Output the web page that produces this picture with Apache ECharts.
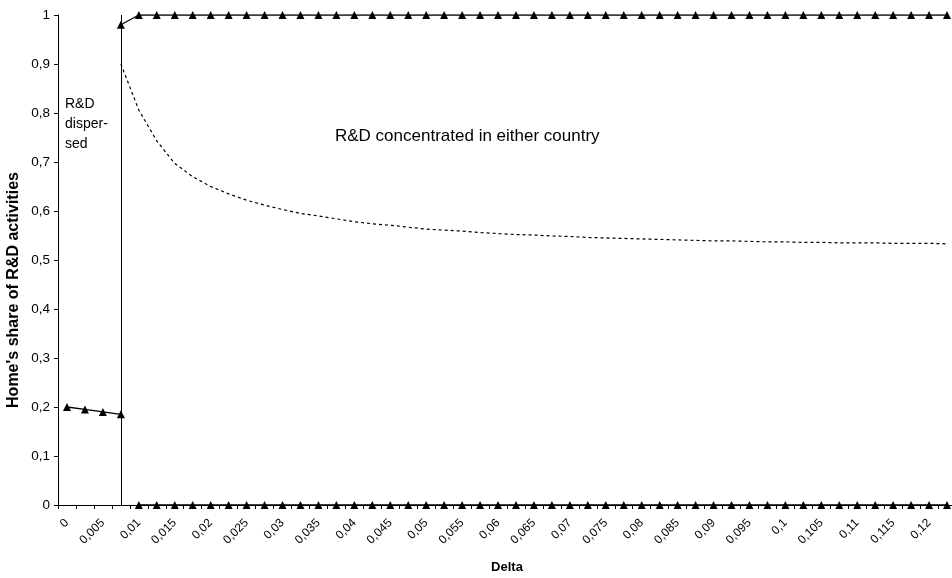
<!DOCTYPE html>
<html>
<head>
<meta charset="utf-8">
<script src="https://cdn.jsdelivr.net/npm/echarts@6/dist/echarts.min.js"></script>
<style>
  html, body { margin: 0; padding: 0; background: #fff; }
  #chart { width: 952px; height: 578px; }
</style>
</head>
<body>
<div id="chart"></div>
<script>
// Delta values along the horizontal axis (step 0.0025)
const categories = [
  '0', '0,0025', '0,005', '0,0075', '0,01', '0,0125', '0,015', '0,0175', '0,02', '0,0225',
  '0,025', '0,0275', '0,03', '0,0325', '0,035', '0,0375', '0,04', '0,0425', '0,045', '0,0475',
  '0,05', '0,0525', '0,055', '0,0575', '0,06', '0,0625', '0,065', '0,0675', '0,07', '0,0725',
  '0,075', '0,0775', '0,08', '0,0825', '0,085', '0,0875', '0,09', '0,0925', '0,095', '0,0975',
  '0,1', '0,1025', '0,105', '0,1075', '0,11', '0,1125', '0,115', '0,1175', '0,12', '0,1225'
];

// Home's share when R&D is dispersed (low delta)
const dispersedShare = [
  0.2, 0.195, 0.19, 0.185, null, null, null, null, null, null,
  null, null, null, null, null, null, null, null, null, null,
  null, null, null, null, null, null, null, null, null, null,
  null, null, null, null, null, null, null, null, null, null,
  null, null, null, null, null, null, null, null, null, null
];

// Concentrated in Home
const concentratedHome = [
  null, null, null, 0.98, 1, 1, 1, 1, 1, 1,
  1, 1, 1, 1, 1, 1, 1, 1, 1, 1,
  1, 1, 1, 1, 1, 1, 1, 1, 1, 1,
  1, 1, 1, 1, 1, 1, 1, 1, 1, 1,
  1, 1, 1, 1, 1, 1, 1, 1, 1, 1
];

// Concentrated in Foreign
const concentratedForeign = [
  null, null, null, null, 0, 0, 0, 0, 0, 0,
  0, 0, 0, 0, 0, 0, 0, 0, 0, 0,
  0, 0, 0, 0, 0, 0, 0, 0, 0, 0,
  0, 0, 0, 0, 0, 0, 0, 0, 0, 0,
  0, 0, 0, 0, 0, 0, 0, 0, 0, 0
];

// Threshold curve separating the two concentration equilibria
const thresholdCurve = [
  null, null, null, 0.9, 0.806, 0.743, 0.697, 0.670, 0.650, 0.635,
  0.622, 0.612, 0.603, 0.595, 0.590, 0.584, 0.578, 0.574, 0.571, 0.567,
  0.563, 0.561, 0.559, 0.556, 0.554, 0.552, 0.551, 0.549, 0.548, 0.546,
  0.545, 0.544, 0.543, 0.542, 0.541, 0.540, 0.539, 0.539, 0.538, 0.537,
  0.537, 0.536, 0.536, 0.535, 0.535, 0.535, 0.534, 0.534, 0.534, 0.533
];

// Category where the regime switches
const switchCategory = '0,0075';

const FONT = '"Liberation Sans", Arial, sans-serif';

const markerSeries = (name, data) => ({
  name,
  type: 'line',
  data,
  symbol: 'triangle',
  symbolSize: 8,
  showAllSymbol: true,
  connectNulls: false,
  itemStyle: { color: '#000' },
  lineStyle: { color: '#000', width: 1.3 },
  emphasis: { disabled: true },
  z: 3
});

const chart = echarts.init(document.getElementById('chart'), null, { renderer: 'canvas' });

chart.setOption({
  backgroundColor: '#fff',
  animation: false,
  textStyle: { fontFamily: FONT },
  grid: { left: 58, right: -4, top: 15, bottom: 73, containLabel: false, outerBoundsMode: 'none' },
  xAxis: {
    type: 'category',
    data: categories,
    boundaryGap: true,
    name: 'Delta',
    nameLocation: 'middle',
    nameGap: 56,
    nameTextStyle: { fontFamily: FONT, fontSize: 13, fontWeight: 'bold', color: '#000' },
    axisLine: { lineStyle: { color: '#000', width: 1 } },
    axisTick: { show: true, interval: 0, length: 4, lineStyle: { color: '#000' } },
    axisLabel: {
      interval: 1,
      rotate: 45,
      margin: 16,
      fontFamily: FONT,
      fontSize: 12,
      color: '#000'
    },
    splitLine: { show: false }
  },
  yAxis: {
    type: 'value',
    min: 0,
    max: 1,
    interval: 0.1,
    axisLine: { show: true, lineStyle: { color: '#000', width: 1 } },
    axisTick: { show: true, length: 4, lineStyle: { color: '#000' } },
    axisLabel: {
      fontFamily: FONT,
      fontSize: 13.5,
      color: '#000',
      margin: 8,
      formatter: v => String(+v.toFixed(1)).replace('.', ',')
    },
    splitLine: { show: false }
  },
  series: [
    Object.assign(markerSeries('dispersed', dispersedShare), {
      markLine: {
        silent: true,
        symbol: 'none',
        label: { show: false },
        lineStyle: { color: '#000', width: 1, type: 'solid' },
        data: [{ xAxis: switchCategory }]
      }
    }),
    markerSeries('home', concentratedHome),
    markerSeries('foreign', concentratedForeign),
    {
      name: 'threshold',
      type: 'line',
      data: thresholdCurve,
      symbol: 'none',
      smooth: false,
      lineStyle: { color: '#000', width: 1.2, type: [3, 3] },
      emphasis: { disabled: true },
      z: 2
    }
  ],
  graphic: [
    {
      // vertical axis title
      type: 'text',
      x: 14,
      y: 290,
      rotation: Math.PI / 2,
      style: {
        text: "Home's share of R&D activities",
        font: 'bold 16px ' + FONT,
        fill: '#000',
        align: 'center',
        verticalAlign: 'middle'
      }
    },
    {
      type: 'text',
      left: 65,
      top: 94,
      style: {
        text: 'R&D\ndisper-\nsed',
        font: '14px ' + FONT,
        fill: '#000',
        lineHeight: 20
      }
    },
    {
      type: 'text',
      left: 335,
      top: 128,
      style: {
        text: 'R&D concentrated in either country',
        font: '17px ' + FONT,
        fill: '#000'
      }
    }
  ]
});
</script>
</body>
</html>
